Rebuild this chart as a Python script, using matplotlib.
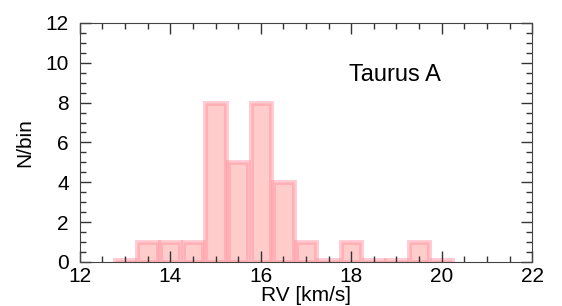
import matplotlib.pyplot as plt
from matplotlib.ticker import MultipleLocator

# histogram bins (centres) and counts
rv_centers = [13.0, 13.5, 14.0, 14.5, 15.0, 15.5, 16.0, 16.5, 17.0, 17.5, 18.0, 18.5, 19.0, 19.5, 20.0]
counts = [0.1, 1, 1, 1, 8, 5, 8, 4, 1, 0.1, 1, 0.1, 0.1, 1, 0.1]

plt.rcParams['font.family'] = ['Liberation Sans', 'DejaVu Sans']

fig = plt.figure(figsize=(5.62, 3.06), dpi=100)
ax = fig.add_axes([0.142, 0.144, 0.805, 0.781])

# light fill with a wide translucent edge
ax.bar(rv_centers, counts, width=0.45, color='#ffcccc',
       edgecolor=(1.0, 0.55, 0.6, 0.45), linewidth=3.5, zorder=1)

ax.set_xlim(12, 22)
ax.set_ylim(0, 12)
ax.xaxis.set_major_locator(MultipleLocator(2))
ax.xaxis.set_minor_locator(MultipleLocator(0.5))
ax.yaxis.set_major_locator(MultipleLocator(2))
ax.yaxis.set_minor_locator(MultipleLocator(0.5))
ax.tick_params(which='both', direction='in', top=True, right=True,
               labelsize=15, width=1, color='#333333', zorder=3)
ax.tick_params(which='major', length=8)
ax.tick_params(which='minor', length=4)
ax.tick_params(axis='y', pad=8)
ax.tick_params(axis='x', pad=4)
for s in ax.spines.values():
    s.set_color('#444444')
    s.set_zorder(3)

ax.set_xlabel('RV [km/s]', fontsize=15, labelpad=0)
ax.set_ylabel('N/bin', fontsize=15, labelpad=8)
ax.text(17.95, 9.4, 'Taurus A', fontsize=17, va='center')

fig.savefig('out.png', dpi=100)
